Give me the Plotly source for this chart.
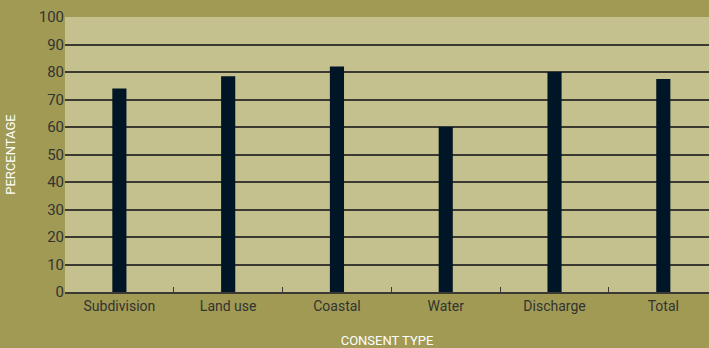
import plotly.graph_objects as go

categories = ["Subdivision", "Land use", "Coastal", "Water", "Discharge", "Total"]
percentages = [74, 78.5, 82, 60, 80, 77.5]
y_ticks = [0, 10, 20, 30, 40, 50, 60, 70, 80, 90, 100]

fig = go.Figure(
    go.Bar(
        x=categories,
        y=percentages,
        width=0.13,
        marker=dict(color="#001626", line=dict(width=0)),
    )
)

font_family = "Roboto, Noto Sans, sans-serif"

fig.update_layout(
    width=709,
    height=348,
    margin=dict(l=65, r=0, t=17, b=56),
    paper_bgcolor="#A09A55",
    plot_bgcolor="#C5C18F",
    showlegend=False,
    font=dict(family=font_family, color="#333330", size=14),
)

fig.update_xaxes(
    range=[-0.5, 5.42],
    tickson="boundaries",
    ticks="inside",
    ticklen=5,
    tickcolor="#3a3a32",
    tickwidth=1,
    showline=True,
    linecolor="#3a3a32",
    linewidth=1.5,
    showgrid=False,
    tickfont=dict(size=14, color="#333330"),
    title=dict(text="CONSENT TYPE", font=dict(size=13, color="#ffffff"), standoff=25),
)

fig.update_yaxes(
    range=[0, 100],
    tickvals=y_ticks,
    showgrid=True,
    gridcolor="#3a3a32",
    gridwidth=1.8,
    zeroline=False,
    showline=False,
    ticks="",
    tickfont=dict(size=15, color="#333330"),
    title=dict(text="PERCENTAGE", font=dict(size=13, color="#ffffff"), standoff=20),
)

fig.write_html("out.html")
